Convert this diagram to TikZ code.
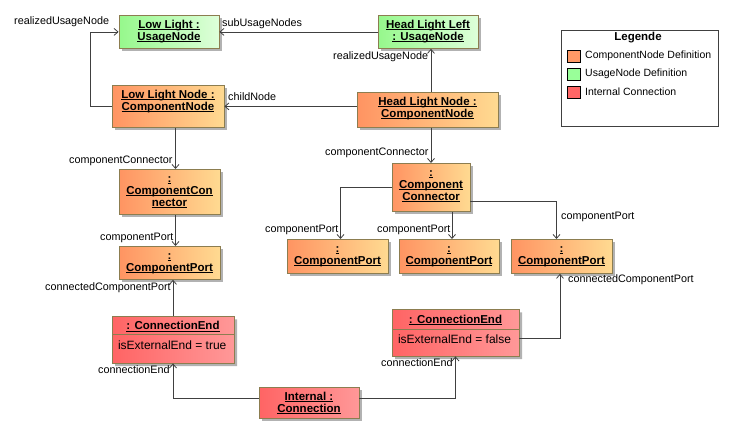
\documentclass[tikz,border=0pt]{standalone}
\usepackage{fontspec}
\setmainfont{Liberation Sans}
\usetikzlibrary{arrows.meta,shadows,shapes.multipart,calc}
\definecolor{orL}{RGB}{255,148,98}
\definecolor{orR}{RGB}{255,218,145}
\definecolor{grL}{RGB}{150,248,140}
\definecolor{grR}{RGB}{222,255,218}
\definecolor{rdL}{RGB}{255,100,100}
\definecolor{rdR}{RGB}{255,152,152}
\definecolor{bordc}{RGB}{140,125,80}
\definecolor{shadc}{RGB}{178,178,178}
\definecolor{linec}{RGB}{64,64,64}
\definecolor{swO}{RGB}{255,153,102}
\definecolor{swG}{RGB}{153,255,153}
\definecolor{swR}{RGB}{255,102,102}
\newsavebox\myubox
\newcommand\boxtext[1]{\begin{tabular}[t]{@{}c@{}}#1\end{tabular}}
\newcommand\myu[1]{\sbox\myubox{#1}\rlap{\rule[-1.8pt]{\wd\myubox}{0.9pt}}\usebox\myubox}
\begin{document}
\begin{tikzpicture}[x=1pt,y=-1pt,
  boxbase/.style={draw=bordc, line width=0.8pt, inner sep=0pt, anchor=north,
    general shadow={fill=shadc, shadow xshift=3pt, shadow yshift=-3pt},
    font=\fontsize{11.5}{12}\selectfont\bfseries},
  box/.style={boxbase, text height=13pt},
  cnode/.style={box, left color=orL, right color=orR},
  unode/.style={box, left color=grL, right color=grR},
  inode/.style={box, left color=rdL, right color=rdR},
  cend/.style={boxbase, left color=rdL, right color=rdR, rectangle split,
    rectangle split parts=2, rectangle split part align={center,left},
    inner xsep=6pt, inner ysep=0pt},
  lbl/.style={font=\fontsize{10.8}{12}\selectfont, inner sep=0pt, anchor=west},
  leglbl/.style={font=\fontsize{10.5}{12}\selectfont, inner sep=0pt, anchor=west},
  arr/.style={draw=linec, line width=0.8pt, -{Straight Barb[length=4pt,width=7pt]}}]
\useasboundingbox (0,0) rectangle (734,434);

% nodes
\node[unode, minimum width=100pt, text depth=20pt] (ll) at (169,15) {\boxtext{\myu{Low Light :}\\\myu{UsageNode}}};
\node[unode, minimum width=100pt, text depth=20pt] (hll) at (428,15) {\boxtext{\myu{Head Light Left}\\\myu{: UsageNode}}};
\node[cnode, minimum width=112pt, text depth=29pt] (lln) at (168,85) {\boxtext{\myu{Low Light Node :}\\\myu{ComponentNode}}};
\node[cnode, minimum width=141pt, text depth=22pt] (hln) at (427.5,92) {\boxtext{\myu{Head Light Node :}\\\myu{ComponentNode}}};
\node[cnode, minimum width=101pt, text depth=32pt] (ccl) at (169.5,169) {\boxtext{\myu{:}\\\myu{ComponentCon}\\\myu{nector}}};
\node[cnode, minimum width=101pt, text depth=20pt] (cpl) at (169.5,246) {\boxtext{\myu{:}\\\myu{ComponentPort}}};
\node[cnode, minimum width=78pt, text depth=35pt] (ccr) at (431,163) {\boxtext{\myu{:}\\\myu{Component}\\\myu{Connector}}};
\node[cnode, minimum width=101pt, text depth=21pt] (cp1) at (337.5,239) {\boxtext{\myu{:}\\\myu{ComponentPort}}};
\node[cnode, minimum width=100pt, text depth=21pt] (cp2) at (449,239) {\boxtext{\myu{:}\\\myu{ComponentPort}}};
\node[cnode, minimum width=101pt, text depth=21pt] (cp3) at (561.5,239) {\boxtext{\myu{:}\\\myu{ComponentPort}}};
\node[inode, minimum width=100pt, text depth=18pt] (ic) at (309,387) {\boxtext{\myu{Internal :}\\\myu{Connection}}};
\node[cend, minimum width=122pt] (cel) at (173,316)
  {\rule[-4pt]{0pt}{17pt}\myu{: ConnectionEnd}\nodepart{two}\rule[-13pt]{0pt}{28pt}{\fontsize{12}{14}\selectfont\mdseries isExternalEnd = true}};
\node[cend, minimum width=127pt] (cer) at (455.5,309)
  {\rule[-5.5pt]{0pt}{19pt}\myu{: ConnectionEnd}\nodepart{two}\rule[-12.3pt]{0pt}{26pt}{\fontsize{12}{14}\selectfont\mdseries isExternalEnd = false}};

% legend
\draw[draw=linec, line width=0.8pt, fill=white] (561,30) rectangle (718,126);
\node[font=\fontsize{11.5}{12}\selectfont\bfseries, inner sep=0pt] (legt) at (638,38) {Legende};
\filldraw[draw=black, line width=0.8pt, fill=swO] (567.5,50.5) rectangle (580.5,62.5);
\filldraw[draw=black, line width=0.8pt, fill=swG] (567.5,68.5) rectangle (580.5,80.5);
\filldraw[draw=black, line width=0.8pt, fill=swR] (567.5,86.5) rectangle (580.5,98.5);
\node[leglbl] (lg1) at (585,56) {ComponentNode Definition};
\node[leglbl] (lg2) at (585,74) {UsageNode Definition};
\node[leglbl] (lg3) at (585,92) {Internal Connection};

% connectors
\draw[arr] (lln.west) -- ++(-21,0) |- (ll.west);
\draw[arr] (hll.west) -- (ll.east);
\draw[arr] ($(hln.north)+(3.5,0)$) -- ($(hll.south)+(3,0)$);
\draw[arr] (hln.west |- lln.east) -- (lln.east);
\draw[arr] ($(lln.south)+(7.5,0)$) -- ($(ccl.north)+(6,0)$);
\draw[arr] ($(ccl.south)+(6,0)$) -- ($(cpl.north)+(6,0)$);
\draw[arr] (cel.north) -- (cel.north |- cpl.south);
\draw[arr] (ccr.north |- hln.south) -- (ccr.north);
\draw[arr] (ccr.west) -| ($(cp1.north)+(3,0)$);
\draw[arr] ($(ccr.south)+(21,0)$) -- ($(cp2.north)+(3,0)$);
\draw[arr] ($(ccr.east)+(0,14)$) -| ($(cp3.north)+(-5,0)$);
\draw[arr] ($(cer.east)+(0,5.5)$) -| ($(cp3.south)+(-1.5,0)$);
\draw[arr] ($(ic.west)+(0,-5)$) -| (cel.south);
\draw[arr] ($(ic.east)+(0,-5)$) -| (cer.south);

% connector labels
\node[lbl] (l1) at (14,21.5) {realizedUsageNode};
\node[lbl] (l2) at (222,24) {subUsageNodes};
\node[lbl] (l3) at (333,57) {realizedUsageNode};
\node[lbl] (l4) at (228,97) {childNode};
\node[lbl] (l5) at (69,161) {componentConnector};
\node[lbl] (l6) at (100,238) {componentPort};
\node[lbl] (l7) at (45,288) {connectedComponentPort};
\node[lbl] (l8) at (325,153) {componentConnector};
\node[lbl] (l9) at (265,230) {componentPort};
\node[lbl] (l10) at (377,230) {componentPort};
\node[lbl] (l11) at (561,217) {componentPort};
\node[lbl] (l12) at (568,280) {connectedComponentPort};
\node[lbl] (l13) at (98,370) {connectionEnd};
\node[lbl] (l14) at (381,363) {connectionEnd};
\end{tikzpicture}
\end{document}
